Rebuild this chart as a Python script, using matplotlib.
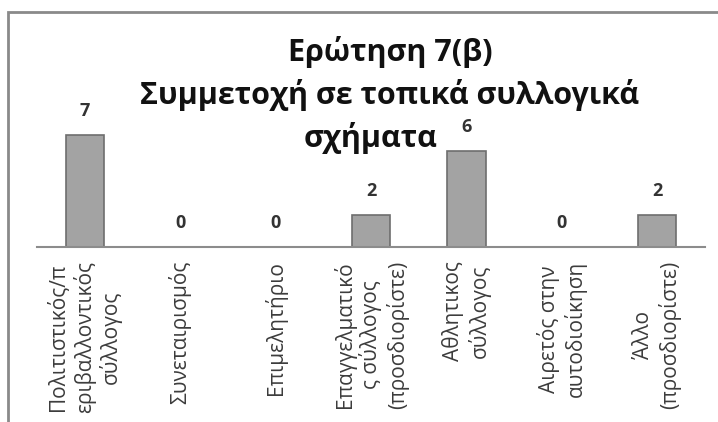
import matplotlib.pyplot as plt
from matplotlib.patches import Rectangle
import numpy as np

plt.rcParams['font.family'] = ['Open Sans', 'DejaVu Sans']

# data
categories = [
    "Πολιτιστικός/π\nεριβαλλοντικός\nσύλλογος",
    "Συνεταιρισμός",
    "Επιμελητήριο",
    "Επαγγελματικό\nς σύλλογος\n(προσδιορίστε)",
    "Αθλητικος\nσύλλογος",
    "Αιρετός στην\nαυτοδιοίκηση",
    "Άλλο\n(προσδιορίστε)",
]
values = [7, 0, 0, 2, 6, 0, 2]
title_lines = ["Ερώτηση 7(β)", "Συμμετοχή σε τοπικά συλλογικά", "σχήματα"]

W, H = 718, 422
fig = plt.figure(figsize=(W / 100, H / 100), dpi=100)
ax = fig.add_axes([37 / W, 1 - 247 / H, 668 / W, 128 / H])

x = np.arange(len(values))
ax.bar(x, values, width=0.4, color="#a3a3a3", edgecolor="#6e6e6e", linewidth=1.2)
ax.set_xlim(-0.5, len(values) - 0.5)
ax.set_ylim(0, 8)

for side in ["left", "right", "top"]:
    ax.spines[side].set_visible(False)
ax.spines["bottom"].set_color("#8c8c8c")
ax.spines["bottom"].set_linewidth(1.5)
ax.set_yticks([])
ax.set_xticks(x, categories, rotation=90, fontsize=15, color="#3c3c3c",
              va="top", linespacing=1.2)
ax.tick_params(axis="x", length=0, pad=10)

for xi, v in zip(x, values):
    ax.annotate(str(v), (xi, v), xytext=(0, 11), textcoords="offset points",
                ha="center", va="bottom", fontsize=13, fontweight="bold",
                color="#333333")

# title, one line at a time (the wrapped last line sits a bit left)
title_x = [390, 390, 371]
for i, line in enumerate(title_lines):
    fig.text(title_x[i] / W, 1 - (52 + 43 * i) / H, line, ha="center",
             va="center", fontsize=22, fontweight="bold", color="#111111")

# scanned chart frame
fig.add_artist(Rectangle((8 / W, -0.1), 1.2, 1.1 - 12 / H,
                         transform=fig.transFigure, fill=False,
                         edgecolor="#8a8a8a", linewidth=2))

fig.savefig("out.png", dpi=100)
